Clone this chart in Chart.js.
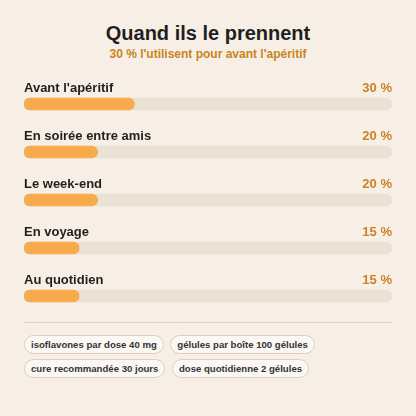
<!DOCTYPE html>
<html><head><meta charset="utf-8">
<script src="https://cdn.jsdelivr.net/npm/chart.js@4/dist/chart.umd.min.js"></script>
<style>
html,body{margin:0;padding:0;background:#f7efe5;font-family:"Liberation Sans",Arial,sans-serif;}
#wrap{position:relative;width:416px;height:416px;}
h1{position:absolute;top:22px;left:0;width:416px;text-align:center;margin:0;font-size:20px;font-weight:bold;color:#1f1f1f;}
#sub{position:absolute;top:47px;left:0;width:416px;text-align:center;font-size:12px;font-weight:bold;color:#c98424;}
#cv{position:absolute;top:80px;left:0;width:416px;height:240px;}
#hr{position:absolute;top:322px;left:24px;width:368px;border-top:1px solid #ddd3c6;}
#chips{position:absolute;top:334px;left:24px;width:380px;}
.chip{display:inline-block;font-size:9.6px;font-weight:bold;color:#333;border:1px solid #d9d0c4;background:#fbf8f4;border-radius:10px;padding:3px 6px;margin:0 2px 4px 0;}
</style></head><body>
<div id="wrap">
<h1>Quand ils le prennent</h1>
<div id="sub">30 % l'utilisent pour avant l'apéritif</div>
<div id="cv"><canvas id="c"></canvas></div>
<div id="hr"></div>
<div id="chips">
<span class="chip">isoflavones par dose 40 mg</span>
<span class="chip">gélules par boîte 100 gélules</span><br>
<span class="chip">cure recommandée 30 jours</span>
<span class="chip">dose quotidienne 2 gélules</span>
</div>
</div>
<script>
const categories=["Avant l'apéritif","En soirée entre amis","Le week-end","En voyage","Au quotidien"];
const values=[30,20,20,15,15];
const track=[100,100,100,100,100];
const labelPlugin={id:'lbl',afterDatasetsDraw(ch){
 const ctx=ch.ctx;const meta=ch.getDatasetMeta(1);
 ctx.save();ctx.font='bold 13px "Liberation Sans", Arial';ctx.textBaseline='middle';
 meta.data.forEach((b,i)=>{
  ctx.fillStyle='#1f1f1f';ctx.textAlign='left';ctx.fillText(categories[i],24,b.y-16);
  ctx.fillStyle='#c98424';ctx.textAlign='right';ctx.fillText(values[i]+' %',392,b.y-16);
 });ctx.restore();}};
new Chart(document.getElementById('c'),{type:'bar',
 data:{labels:categories,datasets:[
  {data:track,backgroundColor:'#ebe2d6',borderRadius:6,borderSkipped:false,barThickness:12,grouped:false,order:2},
  {data:values,backgroundColor:'#f7ab4c',borderRadius:6,borderSkipped:false,barThickness:12,grouped:false,order:1}]},
 options:{indexAxis:'y',responsive:true,maintainAspectRatio:false,animation:false,
  layout:{padding:{left:24,right:24,top:0,bottom:0}},
  plugins:{legend:{display:false},tooltip:{enabled:false}},
  scales:{x:{display:false,min:0,max:100},y:{display:false}}},
 plugins:[labelPlugin]});
</script></body></html>
